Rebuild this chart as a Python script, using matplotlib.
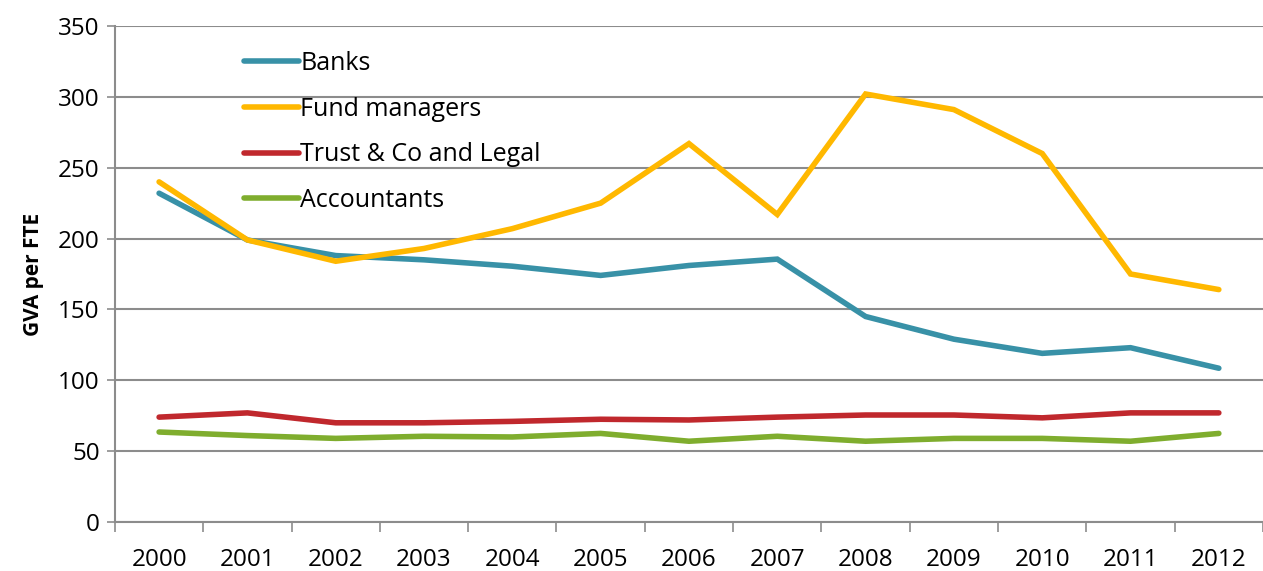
import matplotlib.pyplot as plt
import numpy as np

years = ['2000', '2001', '2002', '2003', '2004', '2005', '2006',
         '2007', '2008', '2009', '2010', '2011', '2012']
banks = [232, 199, 188, 185, 180.5, 174, 181, 185.5, 145, 129, 119, 123, 108.5]
fund_managers = [240, 199, 184, 193, 207, 225, 267, 217, 302, 291, 260, 175, 164]
trust_legal = [74, 77, 70, 70, 71, 72.5, 72, 74, 75.5, 75.5, 73.5, 77, 77]
accountants = [63.5, 61, 59, 60.5, 60, 62.5, 57, 60.5, 57, 59, 59, 57, 62.5]

series = [
    ('Banks', banks, '#3891A7'),
    ('Fund managers', fund_managers, '#FFB800'),
    ('Trust & Co and Legal', trust_legal, '#C0282D'),
    ('Accountants', accountants, '#7FAD2E'),
]

plt.rcParams['font.family'] = ['Open Sans', 'DejaVu Sans']

fig = plt.figure(figsize=(12.63, 5.71), dpi=100)
ax = fig.add_axes([0.091, 0.0858, 0.909, 0.8687])

x = np.arange(len(years))
for name, vals, col in series:
    ax.plot(x, vals, color=col, lw=4, label=name, solid_capstyle='round',
            solid_joinstyle='miter')

ax.set_xlim(-0.5, len(years) - 0.5)
ax.set_ylim(0, 350)
ax.set_yticks(np.arange(0, 351, 50))
ax.yaxis.grid(True, color='#8C8C8C', lw=1.5)
ax.set_axisbelow(True)

ax.set_xticks(x)
ax.set_xticklabels(years, fontsize=17.5)
ax.set_xticks(np.arange(-0.5, len(years), 1), minor=True)
ax.tick_params(axis='x', which='major', length=0, pad=19)
ax.tick_params(axis='x', which='minor', length=7, width=1.2, color='#8C8C8C')
ax.tick_params(axis='y', length=6, width=1.2, color='#8C8C8C', labelsize=17.5, pad=5)

for side in ['top', 'right']:
    ax.spines[side].set_visible(False)
for side in ['left', 'bottom']:
    ax.spines[side].set_color('#8C8C8C')
    ax.spines[side].set_linewidth(1.5)

ax.set_ylabel('GVA per FTE', fontsize=15, fontweight='bold', labelpad=10)

leg = ax.legend(loc='upper left', bbox_to_anchor=(0.093, 0.995), frameon=False,
                fontsize=18, handlelength=2.2, handletextpad=0.05,
                labelspacing=0.83)

fig.savefig('out.png', dpi=100)
